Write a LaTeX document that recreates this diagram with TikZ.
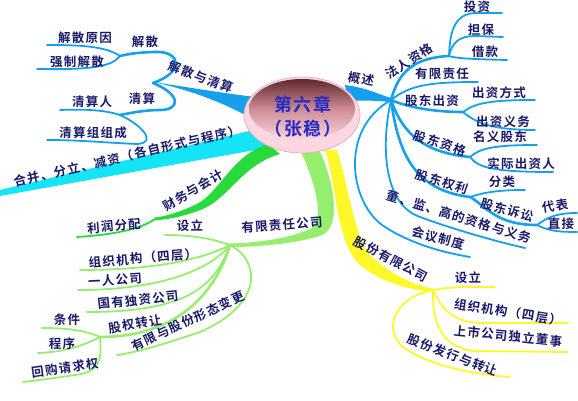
\documentclass[tikz,border=0pt]{standalone}
\usepackage{fontspec}
\newfontfamily\cjk{Noto Sans CJK SC}[BoldFont={Noto Sans CJK SC Bold},LetterSpace=10]
\usetikzlibrary{calc}
\definecolor{inkN}{RGB}{25,25,105}
\definecolor{coreB}{RGB}{40,40,195}
\definecolor{brB}{RGB}{20,160,235}
\definecolor{brC}{RGB}{20,228,245}
\definecolor{brG}{RGB}{40,218,60}
\definecolor{brL}{RGB}{150,238,110}
\definecolor{brY}{RGB}{255,248,40}
\definecolor{rimP}{RGB}{235,175,190}
\definecolor{topM}{RGB}{95,40,45}
\definecolor{botP}{RGB}{252,214,224}

\begin{document}
\begin{tikzpicture}[x=1pt,y=-1pt,
  lbl/.style={font=\cjk\bfseries\fontsize{12.5}{14}\selectfont, text=inkN, inner sep=0pt},
  core/.style={font=\cjk\bfseries\fontsize{18}{20}\selectfont, text=coreB, inner sep=0pt},
  leaf/.style={line width=1.8pt, line cap=round},
  twig/.style={line width=2.6pt, line cap=round}]
\useasboundingbox (0,0) rectangle (578,401);

% junctions and ends
\coordinate (ctr) at (302,115);
\coordinate (J1) at (153,83);   \coordinate (J11) at (120,56);  \coordinate (J12) at (120,115);
\coordinate (e111) at (47,45);  \coordinate (e112) at (37,69);
\coordinate (e121) at (60,110); \coordinate (e122) at (47,140);
\coordinate (e2) at (0,193);
\coordinate (J3) at (155,219);  \coordinate (e31) at (77,237);
\coordinate (J4) at (230,245);  \coordinate (J41) at (100,337);
\coordinate (e41) at (165,235); \coordinate (e42) at (80,270);  \coordinate (e43) at (78,290);
\coordinate (e44) at (87,312);  \coordinate (e45) at (117,355);
\coordinate (e411) at (42,328); \coordinate (e412) at (38,353); \coordinate (e413) at (23,382);
\coordinate (J5) at (433,290);
\coordinate (e51) at (495,287); \coordinate (e52) at (568,323); \coordinate (e53) at (568,352);
\coordinate (e54) at (510,377);
\coordinate (J6) at (391,100);  \coordinate (J61) at (449,56);  \coordinate (J62) at (463,112);
\coordinate (J63) at (470,157); \coordinate (J64) at (470,197); \coordinate (J65) at (537,225);
\coordinate (e611) at (502,13); \coordinate (e612) at (503,37); \coordinate (e613) at (507,60);
\coordinate (e62) at (478,82);  \coordinate (e621) at (535,100); \coordinate (e622) at (535,130);
\coordinate (e631) at (537,145); \coordinate (e632) at (553,172); \coordinate (e641) at (525,190);
\coordinate (e651) at (577,213); \coordinate (e652) at (577,232);
\coordinate (e66) at (525,248); \coordinate (e67) at (470,257);

% blue, left
\fill[brB] (255,97) .. controls (215,92) and (180,86) .. ($(J1)+(0,-1)$)
  .. controls (185,89) and (220,100) .. (258,122) -- cycle;
\draw[brB,twig] (J1) .. controls (185,72) and (180,52) .. (158,52) .. controls (140,52) and (128,54) .. (J11);
\draw[brB,leaf] (J11) .. controls (105,46) and (80,45) .. (e111);
\draw[brB,leaf] (J11) .. controls (112,66) and (95,70) .. (e112);
\draw[brB,twig] (J1) .. controls (182,95) and (180,110) .. (160,110) .. controls (145,110) and (130,113) .. (J12);
\draw[brB,leaf] (J12) .. controls (105,110) and (85,109) .. (e121);
\draw[brB,leaf] (J12) .. controls (140,124) and (158,142) .. (138,144) .. controls (110,143) and (80,140) .. (e122);

% cyan
\fill[brC] (262,128) -- ($(e2)+(0,-3)$) -- ($(e2)+(0,3)$) -- (266,148) -- cycle;

% green
\fill[brG] (268,144) .. controls (232,155) and (220,192) .. (197,204) .. controls (182,211) and (168,216) .. ($(J3)+(0,-1.5)$)
  -- ($(J3)+(0,1.5)$) .. controls (172,219) and (188,215) .. (203,209) .. controls (230,197) and (242,165) .. (280,154) -- cycle;
\draw[brG,leaf] (J3) .. controls (145,226) and (125,234) .. (e31);

% light green
\fill[brL] (318,148) .. controls (330,170) and (345,225) .. (322,235) .. controls (300,243) and (260,247) .. ($(J4)+(0,2)$)
  -- ($(J4)+(0,-1.5)$) .. controls (260,243) and (295,237) .. (312,228) .. controls (326,215) and (312,175) .. (300,150) -- cycle;
\draw[brL,leaf] (J4) .. controls (210,238) and (190,235) .. (e41);
\draw[brL,leaf] (J4) .. controls (205,258) and (160,270) .. (e42);
\draw[brL,leaf] (J4) .. controls (210,270) and (160,290) .. (e43);
\draw[brL,leaf] (J4) .. controls (215,285) and (190,312) .. (e44);
\draw[brL,twig] (J4) .. controls (215,295) and (175,337) .. (J41);
\draw[brL,leaf] (J4) .. controls (262,262) and (262,305) .. (200,332) .. controls (170,342) and (140,352) .. (e45);
\draw[brL,leaf] (J41) .. controls (85,330) and (65,328) .. (e411);
\draw[brL,leaf] (J41) .. controls (85,345) and (65,352) .. (e412);
\draw[brL,leaf] (J41) .. controls (102,360) and (100,372) .. (75,375) .. controls (55,378) and (40,380) .. (e413);

% yellow
\fill[brY] (325,150) .. controls (338,190) and (335,240) .. (360,265) .. controls (380,282) and (410,290) .. ($(J5)+(0,2)$)
  -- ($(J5)+(0,-1.5)$) .. controls (410,285) and (385,270) .. (370,255) .. controls (355,238) and (348,185) .. (337,150) -- cycle;
\draw[brY,leaf] (J5) .. controls (455,286) and (475,287) .. (e51);
\draw[brY,leaf] (J5) .. controls (440,305) and (450,322) .. (480,323) -- (e52);
\draw[brY,leaf] (J5) .. controls (432,320) and (440,348) .. (475,351) -- (e53);
\draw[brY,leaf] (J5) .. controls (393,298) and (383,330) .. (403,347) .. controls (428,365) and (470,374) .. (e54);

% blue, right
\fill[brB] (345,85) .. controls (368,88) and (380,95) .. ($(J6)+(0,-2)$)
  -- ($(J6)+(0,2)$) .. controls (380,101) and (365,100) .. (348,101) -- cycle;
\draw[brB,twig] (J6) .. controls (398,75) and (410,58) .. (J61);
\draw[brB,leaf] (J61) .. controls (450,30) and (455,14) .. (475,13) -- (e611);
\draw[brB,leaf] (J61) .. controls (452,42) and (460,36) .. (475,36) -- (e612);
\draw[brB,leaf] (J61) .. controls (455,58) and (465,59) .. (e613);
\draw[brB,leaf] (J6) .. controls (410,85) and (430,82) .. (e62);
\draw[brB,twig] (J6) .. controls (405,106) and (430,112) .. (J62);
\draw[brB,leaf] (J62) .. controls (475,103) and (490,100) .. (e621);
\draw[brB,leaf] (J62) .. controls (475,122) and (490,130) .. (e622);
\draw[brB,twig] (J6) .. controls (400,125) and (415,152) .. (J63);
\draw[brB,leaf] (J63) .. controls (480,148) and (495,145) .. (e631);
\draw[brB,leaf] (J63) .. controls (478,168) and (495,172) .. (e632);
\draw[brB,twig] (J6) .. controls (398,150) and (412,190) .. (J64);
\draw[brB,leaf] (J64) .. controls (485,192) and (500,190) .. (e641);
\draw[brB,twig] (J64) .. controls (485,205) and (495,225) .. (J65);
\draw[brB,leaf] (J65) .. controls (547,218) and (555,213) .. (e651);
\draw[brB,leaf] (J65) .. controls (547,230) and (555,232) .. (e652);
\draw[brB,leaf] (J6) .. controls (380,150) and (385,205) .. (420,217) .. controls (450,228) and (490,240) .. (e66);
\draw[brB,leaf] (J6) .. controls (338,130) and (350,205) .. (385,227) .. controls (410,243) and (440,252) .. (e67);

% centre
\fill[botP, draw=rimP, line width=0.8pt] (ctr) ellipse [x radius=58, y radius=38];
\shade[top color=topM, bottom color=botP, middle color={rgb,255:red,205;green,140;blue,150}]
  ($(ctr)+(0,-6)$) ellipse [x radius=53, y radius=30];
\node[core] (title) at (303,105) {第六章};
\node[core] (who) at (303,129) {（张稳）};

% labels
\node[lbl,rotate=-20] (n1) at (201,77) {解散与清算};
\node[lbl] (n11) at (145,42) {解散};
\node[lbl] (n111) at (85,38) {解散原因};
\node[lbl] (n112) at (77,62) {强制解散};
\node[lbl] (n12) at (142,99) {清算};
\node[lbl] (n121) at (92,102) {清算人};
\node[lbl] (n122) at (93,133) {清算组组成};
\node[lbl,rotate=13] (n2) at (127,156) {合并、分立、减资（各自形式与程序）};
\node[lbl,rotate=30] (n3) at (193,190) {财务与会计};
\node[lbl,rotate=5] (n31) at (114,226) {利润分配};
\node[lbl,rotate=4] (n4) at (282,225) {有限责任公司};
\node[lbl] (n41) at (190,226) {设立};
\node[lbl,rotate=5] (n42) at (143,258) {组织机构（四层）};
\node[lbl,rotate=3] (n43) at (115,280) {一人公司};
\node[lbl,rotate=6] (n44) at (138,300) {国有独资公司};
\node[lbl,rotate=10] (n45) at (135,324) {股权转让};
\node[lbl,rotate=25] (n46) at (188,321) {有限与股份形态变更};
\node[lbl] (n411) at (67,320) {条件};
\node[lbl] (n412) at (62,344) {程序};
\node[lbl,rotate=8] (n413) at (65,368) {回购请求权};
\node[lbl,rotate=-28] (n5) at (391,259) {股份有限公司};
\node[lbl] (n51) at (468,278) {设立};
\node[lbl,rotate=-9] (n52) at (508,312) {组织机构（四层）};
\node[lbl,rotate=-6] (n53) at (508,336) {上市公司独立董事};
\node[lbl,rotate=-21] (n54) at (453,355) {股份发行与转让};
\node[lbl,rotate=-10] (n6) at (361,79) {概述};
\node[lbl,rotate=33] (n61) at (409,61) {法人资格};
\node[lbl] (n611) at (477,7) {投资};
\node[lbl] (n612) at (481,30) {担保};
\node[lbl] (n613) at (485,52) {借款};
\node[lbl] (n62) at (442,74) {有限责任};
\node[lbl] (n63) at (432,101) {股东出资};
\node[lbl] (n631) at (499,93) {出资方式};
\node[lbl] (n632) at (503,122) {出资义务};
\node[lbl,rotate=-18] (n64) at (440,143) {股东资格};
\node[lbl] (n641) at (500,137) {名义股东};
\node[lbl] (n642) at (521,164) {实际出资人};
\node[lbl,rotate=-18] (n65) at (442,182) {股东权利};
\node[lbl] (n651) at (502,182) {分类};
\node[lbl,rotate=-15] (n652) at (507,210) {股东诉讼};
\node[lbl,rotate=8] (n6521) at (555,206) {代表};
\node[lbl] (n6522) at (561,224) {直接};
\node[lbl,rotate=-17] (n66) at (459,217) {董、监、高的资格与义务};
\node[lbl,rotate=-15] (n67) at (438,238) {会议制度};
\end{tikzpicture}
\end{document}
